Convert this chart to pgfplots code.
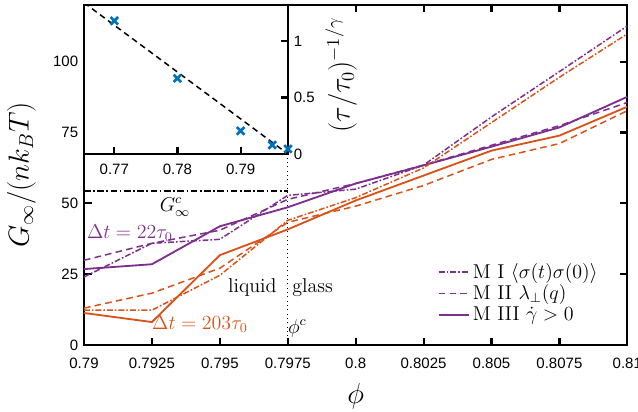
\documentclass[border=0pt]{standalone}
\usepackage{pgfplots}
\pgfplotsset{compat=1.18}
\usepackage{fontspec}
\newfontfamily\tickfont{Liberation Sans}
\definecolor{mpurple}{rgb}{0.494,0.184,0.556}
\definecolor{morange}{rgb}{0.850,0.325,0.098}
\definecolor{mblue}{rgb}{0,0.447,0.741}
\tikzset{
  mI/.style={line width=0.9pt, dash pattern=on 3.5pt off 1.2pt on 1pt off 1.2pt},
  mII/.style={line width=0.9pt, dash pattern=on 4pt off 2.5pt},
  mIII/.style={line width=1.1pt},
}
\begin{document}
\begin{tikzpicture}
\useasboundingbox (-50.4pt,-39.6pt) rectangle (332.4pt,207pt);
\begin{axis}[name=main, at={(0,0)}, anchor=south west,
  scale only axis, width=326pt, height=204pt,
  xmin=0.79, xmax=0.81, ymin=0, ymax=120,
  xtick={0.79,0.7925,0.795,0.7975,0.8,0.8025,0.805,0.8075,0.81},
  xticklabels={0.79,0.7925,0.795,0.7975,0.8,0.8025,0.805,0.8075,0.81},
  ytick={0,25,50,75,100}, yticklabels={0,25,50,75,100},
  tick align=inside, tick pos=both, major tick length=4.5pt,
  axis line style={line width=1.3pt},
  every tick/.style={line width=1.3pt, black},
  tick label style={font=\tickfont\fontsize{9}{10}\selectfont},
  xticklabel style={yshift=-4.5pt},
  xlabel={$\phi$}, ylabel={$G_\infty/(nk_BT)$},
  xlabel style={at={(axis description cs:0.5,-0.15)}, anchor=center, font=\fontsize{17}{19}\selectfont},
  ylabel style={at={(axis description cs:-0.115,0.5)}, anchor=center, font=\fontsize{17}{19}\selectfont},
  legend style={draw=none, fill=none, at={(0.955,0.05)}, anchor=south east,
    font=\fontsize{12}{13}\selectfont, row sep=-1.5pt, inner sep=1pt},
  legend cell align=left,
  legend image code/.code={\draw[#1] (0pt,0pt) -- (18pt,0pt);},
]
% Delta t = 22 tau_0 (purple)
\addplot[mpurple, mI, forget plot] coordinates {
  (0.79,24.0)(0.7925,35.9)(0.795,37.3)(0.7975,52.8)(0.8,55.0)(0.8025,63.5)(0.805,80.5)(0.8075,96.5)(0.81,112.6)};
\addplot[mpurple, mII, forget plot] coordinates {
  (0.79,29.9)(0.7925,35.9)(0.795,40.5)(0.7975,51.4)(0.8,57.0)(0.8025,63.5)(0.805,70.5)(0.8075,77.4)(0.81,85.6)};
\addplot[mpurple, mIII, forget plot] coordinates {
  (0.79,26.8)(0.7925,28.5)(0.795,41.9)(0.7975,48.6)(0.8,57.0)(0.8025,63.4)(0.805,70.0)(0.8075,76.8)(0.81,87.6)};
% Delta t = 203 tau_0 (orange)
\addplot[morange, mI, forget plot] coordinates {
  (0.79,12.3)(0.7925,12.3)(0.795,24.6)(0.7975,44.0)(0.8,52.0)(0.8025,62.5)(0.805,78.5)(0.8075,94.5)(0.81,109.8)};
\addplot[morange, mII, forget plot] coordinates {
  (0.79,13.0)(0.7925,18.3)(0.795,27.1)(0.7975,43.3)(0.8,49.0)(0.8025,56.3)(0.805,65.5)(0.8075,71.1)(0.81,82.7)};
\addplot[morange, mIII, forget plot] coordinates {
  (0.79,11.3)(0.7925,8.1)(0.795,31.7)(0.7975,40.8)(0.8,51.0)(0.8025,59.8)(0.805,68.6)(0.8075,73.9)(0.81,84.1)};
% reference lines
\addplot[black, line width=0.8pt, dash pattern=on 4pt off 1.5pt on 1pt off 1.5pt, forget plot] coordinates {(0.79,54.3)(0.7975,54.3)};
\addplot[black, line width=0.6pt, dotted, forget plot] coordinates {(0.7975,0)(0.7975,120)};
\addlegendimage{mpurple, mI}
\addlegendentry{M I $\langle\sigma(t)\sigma(0)\rangle$}
\addlegendimage{mpurple, mII}
\addlegendentry{M II $\lambda_\perp(q)$}
\addlegendimage{mpurple, mIII}
\addlegendentry{M III $\dot\gamma>0$}
\node[font=\fontsize{12}{13}\selectfont] at (axis cs:0.79335,48.8) {$G_\infty^c$};
\node[anchor=west, text=mpurple, font=\fontsize{12}{13}\selectfont, inner sep=0pt] at (axis cs:0.7901,39.4) {$\Delta t=22\tau_0$};
\node[anchor=east, text=morange, font=\fontsize{12}{13}\selectfont, inner sep=0pt] at (axis cs:0.79604,7.4) {$\Delta t=203\tau_0$};
\node[anchor=east, font=\fontsize{12}{13}\selectfont, inner sep=0pt] at (axis cs:0.7971,20.4) {liquid};
\node[anchor=west, font=\fontsize{12}{13}\selectfont, inner sep=0pt] at (axis cs:0.79766,20.4) {glass};
\node[anchor=west, font=\fontsize{12}{13}\selectfont, inner sep=0pt] at (axis cs:0.7975,6) {$\phi^c$};
\end{axis}
\begin{axis}[at={(main.north west)}, anchor=north west,
  scale only axis, width=122.4pt, height=89.4pt,
  axis background/.style={fill=white},
  xmin=0.7652, xmax=0.7975, ymin=0, ymax=1.32,
  xtick={0.77,0.78,0.79}, xticklabels={0.77,0.78,0.79},
  ytick={0,0.5,1}, yticklabels={0,0.5,1},
  xtick pos=bottom, ytick pos=right, yticklabel pos=right,
  tick align=inside, major tick length=4pt,
  axis line style={line width=1.3pt},
  every tick/.style={line width=1.3pt, black},
  tick label style={font=\tickfont\fontsize{9}{10}\selectfont},
  xticklabel style={yshift=-2.5pt},
  ylabel={$(\tau/\tau_0)^{-1/\gamma}$},
  ylabel style={at={(axis description cs:1.26,0.53)}, anchor=center, font=\fontsize{16}{18}\selectfont},
]
\addplot[black, line width=0.9pt, dash pattern=on 3.5pt off 2.5pt] coordinates {(0.7652,1.34)(0.7975,0)};
\addplot[mblue, only marks, mark=x, mark size=3.2pt, mark options={line width=1.6pt}] coordinates {
  (0.77,1.18)(0.78,0.67)(0.79,0.205)(0.795,0.08)(0.7975,0.045)};
\end{axis}
\end{tikzpicture}
\end{document}
